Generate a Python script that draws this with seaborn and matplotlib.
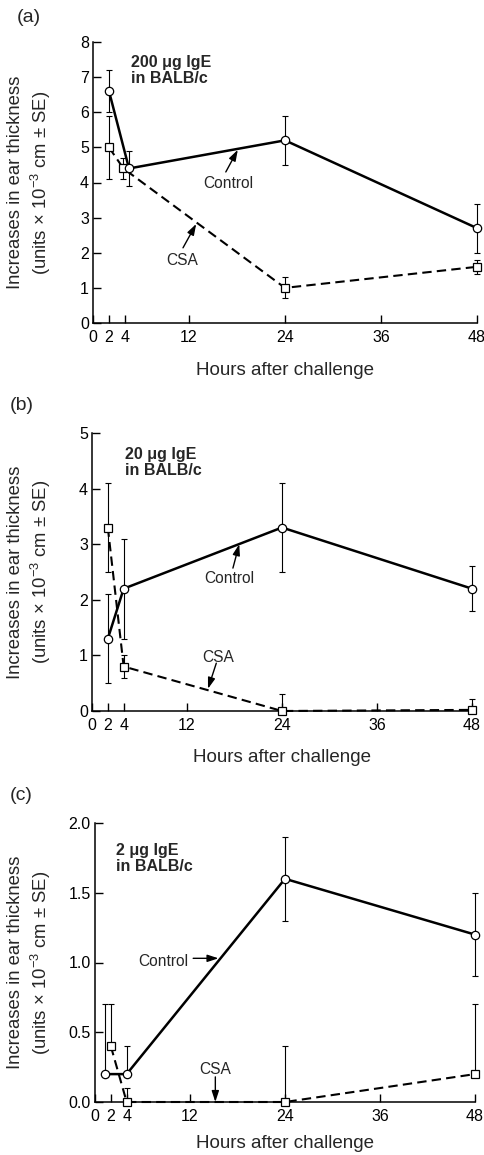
import numpy as np
import pandas as pd
import matplotlib
matplotlib.use("Agg")
import matplotlib.pyplot as plt
import seaborn as sns

# ---------------- data ----------------
# Panel (a): 200 ug IgE
a_ctrl_x = [2, 4.5, 24, 48]
a_ctrl_y = [6.6, 4.4, 5.2, 2.7]
a_ctrl_lo = [0.6, 0.5, 0.7, 0.7]
a_ctrl_hi = [0.6, 0.5, 0.7, 0.7]
a_csa_x = [2, 3.8, 24, 48]
a_csa_y = [5.0, 4.4, 1.0, 1.6]
a_csa_lo = [0.9, 0.3, 0.3, 0.2]
a_csa_hi = [0.9, 0.3, 0.3, 0.2]

# Panel (b): 20 ug IgE
b_ctrl_x = [2, 4, 24, 48]
b_ctrl_y = [1.3, 2.2, 3.3, 2.2]
b_ctrl_lo = [0.8, 0.9, 0.8, 0.4]
b_ctrl_hi = [0.8, 0.9, 0.8, 0.4]
b_csa_x = [2, 4, 24, 48]
b_csa_y = [3.3, 0.8, 0.0, 0.02]
b_csa_lo = [0.8, 0.2, 0.0, 0.0]
b_csa_hi = [0.8, 0.2, 0.3, 0.2]

# Panel (c): 2 ug IgE
c_ctrl_x = [1.3, 4, 24, 48]
c_ctrl_y = [0.2, 0.2, 1.6, 1.2]
c_ctrl_lo = [0.0, 0.0, 0.3, 0.3]
c_ctrl_hi = [0.5, 0.2, 0.3, 0.3]
c_csa_x = [2, 4, 24, 48]
c_csa_y = [0.4, 0.0, 0.0, 0.2]
c_csa_lo = [0.0, 0.0, 0.0, 0.0]
c_csa_hi = [0.3, 0.1, 0.4, 0.5]

x_ticks = [0, 2, 4, 12, 24, 36, 48]
x_tick_labels = ["0", "2", "4", "12", "24", "36", "48"]
a_yticks = [0, 1, 2, 3, 4, 5, 6, 7, 8]
b_yticks = [0, 1, 2, 3, 4, 5]
c_yticks = [0.0, 0.5, 1.0, 1.5, 2.0]
c_ytick_labels = ["0.0", "0.5", "1.0", "1.5", "2.0"]

panel_letters = ["(a)", "(b)", "(c)"]
dose_texts = ["200 μg IgE\nin BALB/c", "20 μg IgE\nin BALB/c", "2 μg IgE\nin BALB/c"]
xlabel = "Hours after challenge"
ylabel = "Increases in ear thickness\n(units × 10$^{-3}$ cm ± SE)"

# ---------------- style ----------------
sns.set_style("ticks")
plt.rcParams["font.family"] = ["Liberation Sans", "DejaVu Sans"]
plt.rcParams["mathtext.fontset"] = "custom"
plt.rcParams["mathtext.rm"] = "Liberation Sans"
plt.rcParams["mathtext.it"] = "Liberation Sans:italic"
plt.rcParams["mathtext.bf"] = "Liberation Sans:bold"

W, H = 484, 1155
fig = plt.figure(figsize=(W / 100, H / 100), dpi=100)

# axes boxes in pixels: left, right, top, bottom
boxes = [(93, 477, 42, 323), (92, 472, 433, 711), (95, 475, 823, 1102)]
xlabel_offsets = [47, 47, 42]

def add_axes_px(l, r, t, b):
    return fig.add_axes([l / W, 1 - b / H, (r - l) / W, (b - t) / H])

panels = [
    dict(cx=a_ctrl_x, cy=a_ctrl_y, clo=a_ctrl_lo, chi=a_ctrl_hi,
         sx=a_csa_x, sy=a_csa_y, slo=a_csa_lo, shi=a_csa_hi,
         ymax=8, yticks=a_yticks, ylabels=[str(v) for v in a_yticks],
         ctrl_text=(16.9, 3.96), ctrl_arrow=((16.6, 4.30), (18.1, 4.93)),
         csa_text=(11.1, 1.77), csa_arrow=((11.25, 2.14), (12.9, 2.82)),
         dose_pos=(0.098, 0.955), letter_pos=(17, 17), ylab_px=30),
    dict(cx=b_ctrl_x, cy=b_ctrl_y, clo=b_ctrl_lo, chi=b_ctrl_hi,
         sx=b_csa_x, sy=b_csa_y, slo=b_csa_lo, shi=b_csa_hi,
         ymax=5, yticks=b_yticks, ylabels=[str(v) for v in b_yticks],
         ctrl_text=(17.3, 2.39), ctrl_arrow=((17.8, 2.57), (18.6, 3.0)),
         csa_text=(15.9, 0.97), csa_arrow=((15.7, 0.86), (14.65, 0.40)),
         dose_pos=(0.087, 0.950), letter_pos=(10, 405), ylab_px=30),
    dict(cx=c_ctrl_x, cy=c_ctrl_y, clo=c_ctrl_lo, chi=c_ctrl_hi,
         sx=c_csa_x, sy=c_csa_y, slo=c_csa_lo, shi=c_csa_hi,
         ymax=2.0, yticks=c_yticks, ylabels=c_ytick_labels,
         ctrl_text=(8.6, 1.01), ctrl_arrow=((12.4, 1.03), (15.6, 1.03)),
         csa_text=(15.2, 0.23), csa_arrow=((15.2, 0.18), (15.2, 0.0)),
         dose_pos=(0.055, 0.930), letter_pos=(10, 795), ylab_px=30),
]

arrow_kw = dict(arrowstyle="-|>,head_length=0.55,head_width=0.18",
                color="black", lw=1.0, shrinkA=0, shrinkB=0, mutation_scale=12)

for i, (box, p) in enumerate(zip(boxes, panels)):
    l, r, t, b = box
    ax = add_axes_px(l, r, t, b)
    dctrl = pd.DataFrame({"x": p["cx"], "y": p["cy"]})
    dcsa = pd.DataFrame({"x": p["sx"], "y": p["sy"]})

    # error bars
    ax.errorbar(p["cx"], p["cy"], yerr=[p["clo"], p["chi"]], fmt="none",
                ecolor="black", elinewidth=0.8, capsize=2.5, capthick=0.8,
                zorder=2, clip_on=False)
    ax.errorbar(p["sx"], p["sy"], yerr=[p["slo"], p["shi"]], fmt="none",
                ecolor="black", elinewidth=0.8, capsize=2.5, capthick=0.8,
                zorder=2, clip_on=False)

    sns.lineplot(data=dcsa, x="x", y="y", ax=ax, color="black",
                 linestyle=(0, (4.5, 2.5)), lw=1.5, marker="s", markersize=5.5,
                 markerfacecolor="white", markeredgecolor="black",
                 markeredgewidth=0.9, errorbar=None, sort=False,
                 zorder=3, clip_on=False)
    sns.lineplot(data=dctrl, x="x", y="y", ax=ax, color="black",
                 linestyle="-", lw=1.8, marker="o", markersize=6,
                 markerfacecolor="white", markeredgecolor="black",
                 markeredgewidth=0.9, errorbar=None, sort=False,
                 zorder=4, clip_on=False)

    ax.set_xlim(0, 48)
    ax.set_ylim(0, p["ymax"])
    ax.set_xticks(x_ticks)
    ax.set_xticklabels(x_tick_labels)
    ax.set_yticks(p["yticks"])
    ax.set_yticklabels(p["ylabels"])
    ax.tick_params(axis="both", direction="in", length=6, width=1.0,
                   labelsize=11.5, colors="black")
    ax.tick_params(axis="y", pad=3)
    ax.tick_params(axis="x", pad=5)
    for s in ["top", "right"]:
        ax.spines[s].set_visible(False)
    for s in ["left", "bottom"]:
        ax.spines[s].set_linewidth(1.1)
        ax.spines[s].set_color("black")

    ax.set_xlabel(xlabel, fontsize=13.5, va="center")
    ax.xaxis.set_label_coords(0.5, -xlabel_offsets[i] / (b - t))
    ax.set_ylabel(ylabel, fontsize=13.3, va="center", linespacing=1.3)
    ax.yaxis.set_label_coords(-(l - p["ylab_px"]) / (r - l), 0.5)

    ax.text(p["dose_pos"][0], p["dose_pos"][1], dose_texts[i],
            transform=ax.transAxes, ha="left", va="top", fontsize=11.5,
            fontweight="bold", linespacing=1.1)

    ax.text(p["ctrl_text"][0], p["ctrl_text"][1], "Control", fontsize=11.2,
            ha="center", va="center")
    ax.text(p["csa_text"][0], p["csa_text"][1], "CSA", fontsize=11.2,
            ha="center", va="center")
    ax.annotate("", xy=p["ctrl_arrow"][1], xytext=p["ctrl_arrow"][0],
                arrowprops=arrow_kw, annotation_clip=False)
    ax.annotate("", xy=p["csa_arrow"][1], xytext=p["csa_arrow"][0],
                arrowprops=arrow_kw, annotation_clip=False)

    fig.text(p["letter_pos"][0] / W, 1 - p["letter_pos"][1] / H,
             panel_letters[i], fontsize=14, ha="left", va="center")

fig.savefig("out.png", dpi=100)
